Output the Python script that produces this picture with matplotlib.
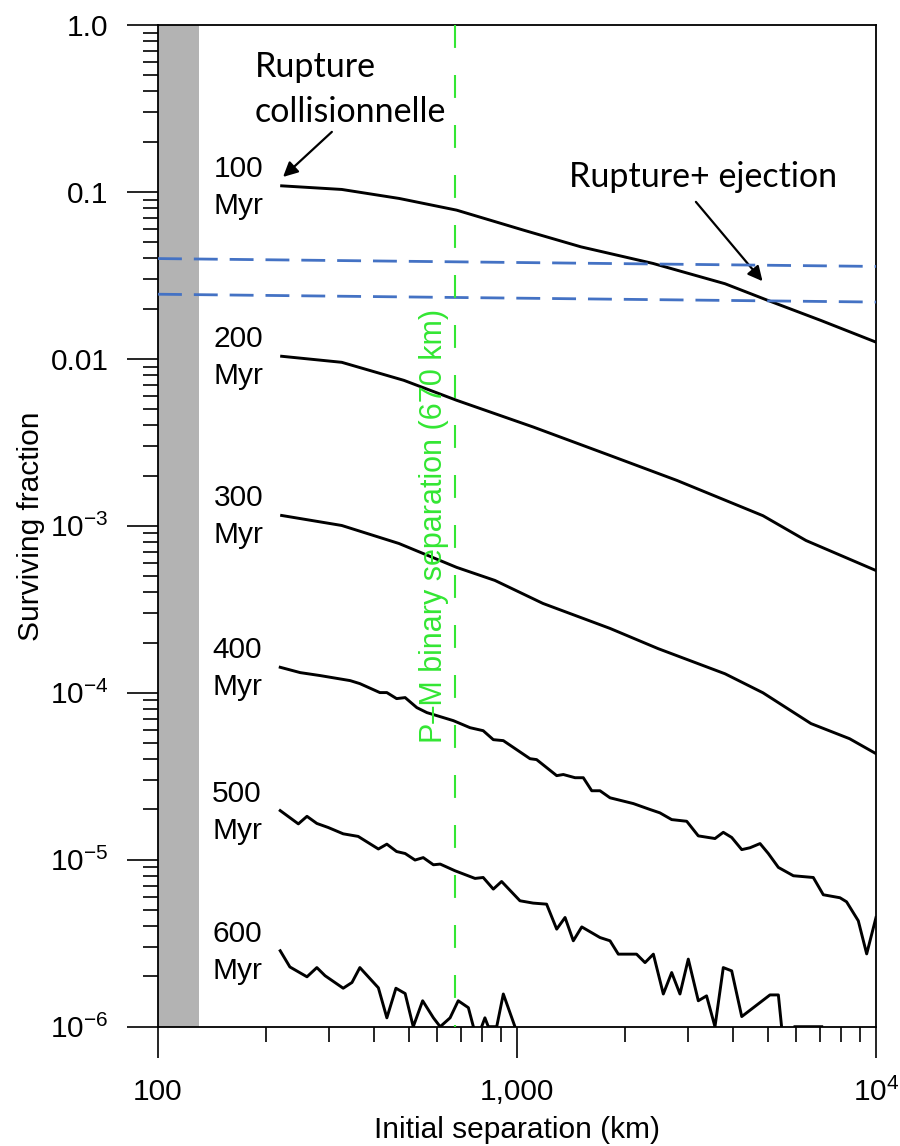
import matplotlib
matplotlib.use("Agg")
import matplotlib.pyplot as plt
import matplotlib.transforms as mtransforms
from matplotlib.ticker import FixedLocator, FixedFormatter, NullFormatter, LogLocator

# ---------------- data ----------------
ages = ["100", "200", "300", "400", "500", "600"]

sep_100 = [221, 325, 470, 679, 1044, 1507, 2393, 3797, 5000, 7020, 10000]
frac_100 = [0.1088, 0.1035, 0.0914, 0.0778, 0.0590, 0.0469, 0.0373, 0.0282,
            0.0224, 0.0170, 0.0126]

sep_200 = [221, 325, 484, 679, 1109, 1816, 2791, 4844, 6383, 10000]
frac_200 = [1.037e-2, 9.54e-3, 7.44e-3, 5.65e-3, 3.91e-3, 2.64e-3, 1.87e-3,
            1.15e-3, 8.17e-4, 5.40e-4]

sep_300 = [221, 325, 469, 679, 868, 1181, 1816, 2471, 3797, 4844, 6591, 8440, 10000]
frac_300 = [1.154e-3, 1.005e-3, 7.84e-4, 5.64e-4, 4.71e-4, 3.43e-4, 2.43e-4,
            1.84e-4, 1.30e-4, 1.00e-4, 6.54e-5, 5.31e-5, 4.32e-5]

sep_400 = [219, 249, 283, 343, 365, 415, 434, 462, 488, 526, 561, 665, 740, 805,
           859, 916, 1087, 1134, 1290, 1346, 1451, 1530, 1615, 1703, 1816, 2109,
           2347, 2500, 2697, 2970, 3199, 3560, 3755, 3963, 4227, 4457, 4753, 5012,
           5346, 5886, 6688, 7132, 7938, 8279, 8926, 9420, 10000]
frac_400 = [1.422e-4, 1.321e-4, 1.268e-4, 1.183e-4, 1.135e-4, 1.003e-4, 1.003e-4,
            9.23e-5, 9.36e-5, 8.15e-5, 7.61e-5, 6.81e-5, 6.18e-5, 5.93e-5,
            5.24e-5, 5.17e-5, 4.03e-5, 3.98e-5, 3.19e-5, 3.24e-5, 3.10e-5,
            3.10e-5, 2.59e-5, 2.59e-5, 2.35e-5, 2.17e-5, 2.00e-5, 1.91e-5,
            1.74e-5, 1.70e-5, 1.39e-5, 1.34e-5, 1.46e-5, 1.36e-5, 1.15e-5,
            1.18e-5, 1.25e-5, 1.09e-5, 9.0e-6, 8.02e-6, 7.83e-6, 6.17e-6,
            5.92e-6, 5.60e-6, 4.31e-6, 2.73e-6, 4.51e-6]

sep_500 = [219, 246, 260, 277, 298, 328, 361, 411, 434, 462, 488, 520, 548, 585,
           611, 672, 764, 805, 859, 906, 1019, 1109, 1209, 1290, 1361, 1435, 1515,
           1703, 1816, 1915, 2153, 2273, 2398, 2556, 2697, 2844, 3000, 3199, 3373,
           3560, 3755, 3963, 4227, 5066, 5346, 5458, 5700, 5947, 7060]
frac_500 = [1.97e-5, 1.64e-5, 1.82e-5, 1.65e-5, 1.56e-5, 1.43e-5, 1.38e-5,
            1.16e-5, 1.24e-5, 1.12e-5, 1.09e-5, 9.96e-6, 1.03e-5, 9.33e-6,
            9.42e-6, 8.59e-6, 7.73e-6, 7.83e-6, 6.67e-6, 7.41e-6, 5.68e-6,
            5.50e-6, 5.42e-6, 3.84e-6, 4.51e-6, 3.27e-6, 3.96e-6, 3.42e-6,
            3.27e-6, 2.72e-6, 2.72e-6, 2.42e-6, 2.72e-6, 1.57e-6, 2.11e-6,
            1.57e-6, 2.54e-6, 1.43e-6, 1.53e-6, 1.0e-6, 2.26e-6, 2.16e-6,
            1.15e-6, 1.55e-6, 1.55e-6, 1.0e-6, 0.0, 1.0e-6, 1.0e-6]

sep_600 = [219, 233, 260, 277, 292, 328, 347, 365, 411, 434, 460, 488, 514, 546,
           585, 611, 651, 686, 732, 756, 780, 797, 814, 832, 878, 916, 987]
frac_600 = [2.85e-6, 2.28e-6, 1.99e-6, 2.26e-6, 2.02e-6, 1.70e-6, 1.84e-6,
            2.26e-6, 1.71e-6, 1.13e-6, 1.70e-6, 1.58e-6, 1.0e-6, 1.43e-6,
            1.13e-6, 1.0e-6, 1.13e-6, 1.43e-6, 1.30e-6, 1.0e-6, 0.0, 1.0e-6,
            1.13e-6, 1.0e-6, 1.0e-6, 1.57e-6, 1.0e-6]

# ejection limits (blue dashed) and P-M separation
limit_x = [100, 10000]
limit_upper = [0.0399, 0.0358]
limit_lower = [0.0244, 0.0219]
pm_separation = 670
excluded_max = 130  # grey band 100..130 km

x_ticks = [100, 1000, 10000]
x_ticklabels = ["100", "1,000", r"$\mathregular{10^{4}}$"]
y_ticks = [1e-6, 1e-5, 1e-4, 1e-3, 1e-2, 1e-1, 1.0]
y_ticklabels = [r"$\mathregular{10^{-6}}$", r"$\mathregular{10^{-5}}$",
                r"$\mathregular{10^{-4}}$", r"$\mathregular{10^{-3}}$",
                "0.01", "0.1", "1.0"]

# ---------------- style ----------------
plt.rcParams['font.family'] = ['Liberation Sans', 'DejaVu Sans']
plt.rcParams['mathtext.fontset'] = 'custom'
plt.rcParams['mathtext.rm'] = 'Liberation Sans'
plt.rcParams['mathtext.it'] = 'Liberation Sans:italic'
plt.rcParams['mathtext.bf'] = 'Liberation Sans:bold'

GREEN = '#33e633'
BLUE = '#4472c4'
GREY = '#b3b3b3'
FS = 21.5

W, H = 900, 1146
fig = plt.figure(figsize=(W / 100, H / 100), dpi=100)
ax = fig.add_axes([158 / W, 1 - 1026.7 / H, (876 - 158) / W, (1026.7 - 25) / H])
ax.set_xscale('log')
ax.set_yscale('log', nonpositive='mask')
ax.set_xlim(100, 10000)
ax.set_ylim(1e-6, 1.0)

ax.axvspan(100, excluded_max, color=GREY, lw=0, zorder=0)

curves = [(sep_100, frac_100), (sep_200, frac_200), (sep_300, frac_300),
          (sep_400, frac_400), (sep_500, frac_500), (sep_600, frac_600)]
for (sx, fy), age in zip(curves, ages):
    ax.plot(sx, fy, color='black', lw=2.1, zorder=3, solid_joinstyle='round')
    ax.annotate(age, xy=(sx[0], fy[0]), xytext=(-68, 9), textcoords='offset pixels',
                ha='left', va='baseline', fontsize=FS)
    ax.annotate('Myr', xy=(sx[0], fy[0]), xytext=(-68, -28), textcoords='offset pixels',
                ha='left', va='baseline', fontsize=FS)

# P-M separation line
ax.axvline(pm_separation, ymin=1, ymax=0, color=GREEN, lw=1.5,
           linestyle=(0, (11, 13)), zorder=5)
trans = mtransforms.blended_transform_factory(ax.transData, ax.transAxes)
ax.text(617, 0.5, 'P\u2013M binary separation (670 km)', transform=trans,
        rotation=90, rotation_mode='anchor', ha='center', va='baseline',
        color=GREEN, fontsize=22, zorder=5)

# blue dashed ejection lines
for lim in (limit_upper, limit_lower):
    ax.plot(limit_x, lim, color=BLUE, lw=2.0, linestyle=(0, (8.6, 4.3)), zorder=4)

# annotations
ANN_FONT = ['Lato', 'DejaVu Sans']
ANN_FS = 24.5
ax.text(186, 0.488, 'Rupture', family=ANN_FONT, fontsize=ANN_FS, ha='left', va='baseline')
ax.text(186, 0.263, 'collisionnelle', family=ANN_FONT, fontsize=ANN_FS, ha='left',
        va='baseline')
ax.text(1396, 0.1073, 'Rupture+ ejection', family=ANN_FONT, fontsize=ANN_FS,
        ha='left', va='baseline')
arrow = dict(arrowstyle='-|>', color='black', lw=1.6, mutation_scale=22,
             shrinkA=0, shrinkB=0)
ax.annotate('', xy=(223, 0.123), xytext=(305, 0.229), arrowprops=arrow)
ax.annotate('', xy=(4830, 0.0292), xytext=(3150, 0.0872), arrowprops=arrow)

# axes styling
for s in ax.spines.values():
    s.set_linewidth(1.3)
ax.xaxis.set_major_locator(FixedLocator(x_ticks))
ax.xaxis.set_major_formatter(FixedFormatter(x_ticklabels))
ax.xaxis.set_minor_locator(LogLocator(base=10, subs=range(2, 10)))
ax.xaxis.set_minor_formatter(NullFormatter())
ax.yaxis.set_major_locator(FixedLocator(y_ticks))
ax.yaxis.set_major_formatter(FixedFormatter(y_ticklabels))
ax.yaxis.set_minor_locator(LogLocator(base=10, subs=range(2, 10), numticks=20))
ax.yaxis.set_minor_formatter(NullFormatter())
ax.tick_params(which='major', direction='out', length=22, width=1.2,
               labelsize=FS, top=False, right=False)
ax.tick_params(which='minor', direction='out', length=11, width=1.2,
               top=False, right=False)
ax.tick_params(axis='x', which='major', pad=15)
ax.tick_params(axis='y', which='major', pad=13.5)

ax.set_xlabel('Initial separation (km)', fontsize=FS)
ax.xaxis.set_label_coords(0.5, -0.089)
ax.set_ylabel('Surviving fraction', fontsize=FS)
ax.yaxis.set_label_coords(-0.157, 0.5)

fig.savefig('out.png', dpi=100)
